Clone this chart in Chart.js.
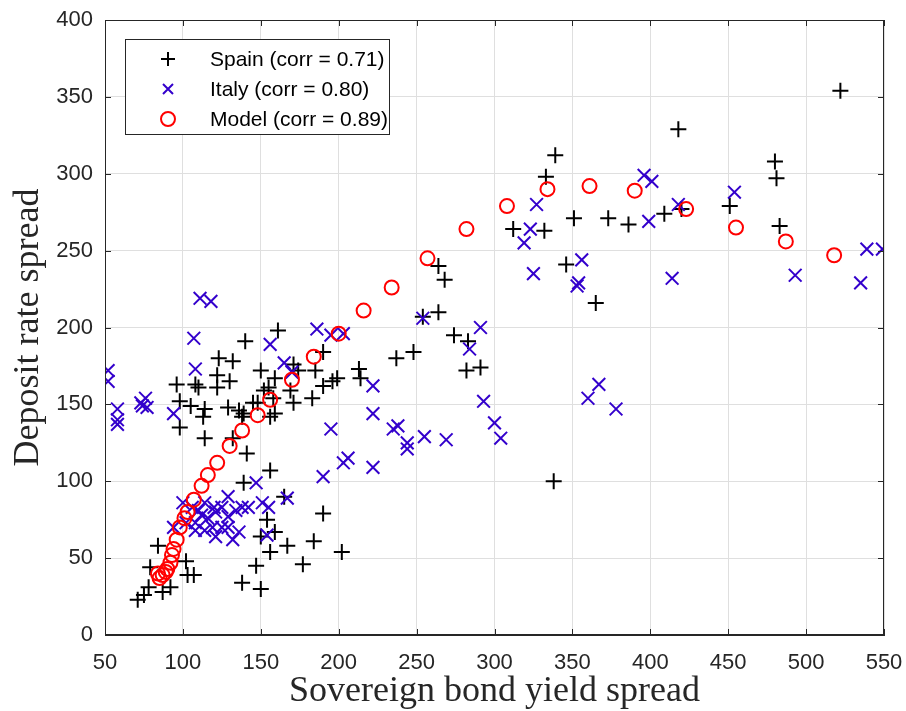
<!DOCTYPE html>
<html>
<head>
<meta charset="utf-8">
<script src="https://cdn.jsdelivr.net/npm/chart.js@4.4.0/dist/chart.umd.min.js"></script>
<style>
  body { margin: 0; background: #fff; }
  canvas { display: block; }
</style>
</head>
<body>
<canvas id="scatter" width="906" height="711"></canvas>
<script>
// values
const spainX = [522,418,480,481,483,451,420,409,386,373,351,339,333,312,332,346,365,264,268,264,254,274,283,237,248,282,291,213,214,199,196,190,185,190,161,171,174,169,171,183,150,159,152,158,148,156,156,165,140,141,123,132,96,108,110,122,122,130,98,105,114,113,98,114,129,136,139,145,155,159,138,132,139,154,159,150,156,167,177,147,138,150,102,103,107,84,79,78,75,71,87,92,184,190,202,338];
const spainY = [354,329,308,297,266,279,277,274,267,271,271,312,298,264,263,241,216,240,231,210,207,195,191,180,184,172,174,173,167,167,165,162,172,184,198,176,172,159,151,154,172,167,159,154,151,142,107,90,191,118,180,178,163,163,161,169,161,165,152,149,147,142,135,128,148,146,144,151,161,144,142,128,99,75,67,64,54,58,46,45,34,30,48,39,39,58,44,31,26,23,28,31,61,79,54,100];

const italyX = [52,52,58,58,58,73,76,77,74,94,107,108,111,118,156,165,170,186,195,203,222,222,195,235,238,244,244,255,269,293,300,304,284,291,254,203,206,222,190,147,167,327,323,319,325,356,353,354,396,401,418,399,454,414,493,535,539,549,360,367,378,
  100,106,114,120,112,108,116,121,125,129,134,138,142,151,155,94,102,108,114,121,129,132,136,154,129,125,119,110];
const italyY = [172,165,147,140,137,151,154,148,149,144,193,173,219,217,189,177,171,199,195,196,162,144,134,134,136,125,121,129,127,152,138,128,186,200,206,112,115,109,103,99,89,280,264,255,235,244,227,229,299,295,280,269,288,232,234,229,251,251,154,163,147,
  86,83,86,83,78,73,76,80,83,90,81,83,83,86,83,70,73,68,68,64,70,62,67,65,77,70,70,81];

const modelX = [518,487,455,423,390,361,334,308,282,257,234,216,200,184,170,156,148,138,130,122,116,112,107,103,101,98,96,94,93,92,90,89,87,85,84];
const modelY = [247,256,265,277,289,292,290,279,264,245,226,211,196,181,166,153,143,133,123,112,104,97,88,80,76,70,62,56,52,47,43,41,39,37,40];

const seriesLabels = ['Spain (corr = 0.71)', 'Italy (corr = 0.80)', 'Model (corr = 0.89)'];
const xTitle = 'Sovereign bond yield spread';
const yTitle = 'Deposit rate spread';

const pts = (xs, ys) => xs.map((x, i) => ({ x: x, y: ys[i] }));

const INK = '#262626';
const BLUE = 'rgb(51,0,204)';
const RED = 'rgb(255,0,0)';

function drawMarker(ctx, kind, x, y) {
  ctx.save();
  ctx.lineWidth = 2;
  if (kind === 0) {
    ctx.strokeStyle = '#000';
    ctx.beginPath();
    ctx.moveTo(x - 7, y); ctx.lineTo(x + 7, y);
    ctx.moveTo(x, y - 7); ctx.lineTo(x, y + 7);
    ctx.stroke();
  } else if (kind === 1) {
    ctx.strokeStyle = BLUE;
    ctx.beginPath();
    ctx.moveTo(x - 5, y - 5); ctx.lineTo(x + 5, y + 5);
    ctx.moveTo(x - 5, y + 5); ctx.lineTo(x + 5, y - 5);
    ctx.stroke();
  } else {
    ctx.strokeStyle = RED;
    ctx.beginPath();
    ctx.arc(x, y, 7, 0, Math.PI * 2);
    ctx.stroke();
  }
  ctx.restore();
}

const frame = {
  id: 'frame',
  afterDraw(chart) {
    const { ctx, chartArea: a, scales } = chart;
    ctx.save();
    ctx.strokeStyle = INK;
    ctx.lineWidth = 1;
    ctx.strokeRect(a.left + 0.5, a.top + 0.5, a.right - a.left - 1, a.bottom - a.top - 1);
    ctx.beginPath();
    scales.x.ticks.forEach(t => {
      const px = Math.round(scales.x.getPixelForValue(t.value)) + 0.5;
      ctx.moveTo(px, a.bottom); ctx.lineTo(px, a.bottom - 6);
      ctx.moveTo(px, a.top); ctx.lineTo(px, a.top + 6);
    });
    scales.y.ticks.forEach(t => {
      const py = Math.round(scales.y.getPixelForValue(t.value)) + 0.5;
      ctx.moveTo(a.left, py); ctx.lineTo(a.left + 6, py);
      ctx.moveTo(a.right, py); ctx.lineTo(a.right - 6, py);
    });
    ctx.stroke();

    // axis titles
    ctx.fillStyle = INK;
    ctx.textAlign = 'center';
    ctx.textBaseline = 'middle';
    ctx.font = '36px "Liberation Serif"';
    ctx.fillText(xTitle, (a.left + a.right) / 2, 692);
    ctx.save();
    ctx.translate(29, (a.top + a.bottom) / 2);
    ctx.rotate(-Math.PI / 2);
    ctx.fillText(yTitle, 0, 0);
    ctx.restore();

    // legend
    const lx = 125, ly = 39, lw = 264, lh = 95;
    ctx.fillStyle = '#fff';
    ctx.fillRect(lx, ly, lw, lh);
    ctx.strokeStyle = INK;
    ctx.strokeRect(lx + 0.5, ly + 0.5, lw, lh);
    ctx.font = '21px "Liberation Sans"';
    ctx.textAlign = 'left';
    ctx.fillStyle = '#000';
    seriesLabels.forEach((lab, i) => {
      const ry = 59 + i * 30;
      drawMarker(ctx, i, 168, ry);
      ctx.fillText(lab, 210, ry + 1);
    });
    ctx.restore();
  }
};

new Chart(document.getElementById('scatter').getContext('2d'), {
  type: 'scatter',
  data: {
    datasets: [
      {
        label: seriesLabels[0],
        data: pts(spainX, spainY),
        pointStyle: 'cross',
        pointRadius: 8,
        borderColor: '#000',
        backgroundColor: '#000',
        pointBorderWidth: 2,
        order: 3
      },
      {
        label: seriesLabels[1],
        data: pts(italyX, italyY),
        pointStyle: 'crossRot',
        pointRadius: 9,
        borderColor: BLUE,
        backgroundColor: BLUE,
        pointBorderWidth: 2,
        order: 2
      },
      {
        label: seriesLabels[2],
        data: pts(modelX, modelY),
        pointStyle: 'circle',
        pointRadius: 7,
        borderColor: RED,
        backgroundColor: 'rgba(0,0,0,0)',
        pointBorderWidth: 2,
        order: 1
      }
    ]
  },
  options: {
    responsive: false,
    animation: false,
    layout: { autoPadding: false, padding: { top: 20, right: 22, left: 0, bottom: 0 } },
    plugins: { legend: { display: false }, tooltip: { enabled: false } },
    scales: {
      x: {
        type: 'linear',
        min: 50, max: 550,
        ticks: { stepSize: 50, color: INK, font: { family: 'Liberation Sans', size: 22 }, padding: 15 },
        grid: { color: '#dfdfdf', drawTicks: false },
        border: { color: INK },
        afterFit: s => { s.height = 76; s.paddingLeft = 0; s.paddingRight = 0; }
      },
      y: {
        min: 0, max: 400,
        ticks: { stepSize: 50, color: INK, font: { family: 'Liberation Sans', size: 22 }, padding: 12 },
        grid: { color: '#dfdfdf', drawTicks: false },
        border: { color: INK },
        afterFit: s => { s.width = 105; s.paddingTop = 0; s.paddingBottom = 0; }
      }
    }
  },
  plugins: [frame]
});
</script>
</body>
</html>
